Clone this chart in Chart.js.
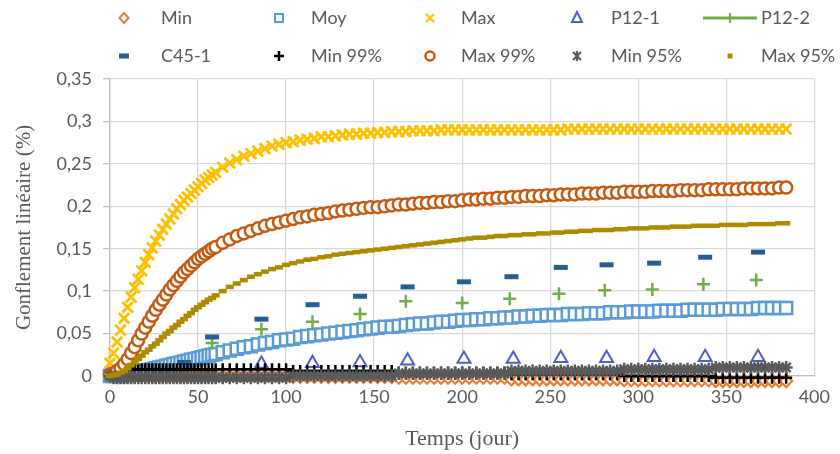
<!DOCTYPE html>
<html><head><meta charset="utf-8">
<script src="https://cdn.jsdelivr.net/npm/chart.js@4.4.1/dist/chart.umd.min.js"></script>
<style>html,body{margin:0;padding:0;background:#fff}#wrap{width:840px;height:454px;position:relative}</style>
</head><body><div id="wrap"><canvas id="c" width="840" height="454"></canvas></div>
<script>
// ---------- DATA ----------
const seriesNames = ['Min','Moy','Max','P12-1','P12-2','C45-1','Min 99%','Max 99%','Min 95%','Max 95%'];
const xTicks = [0,50,100,150,200,250,300,350,400];
const yTicks = [0,0.05,0.1,0.15,0.2,0.25,0.3,0.35];

const days = [
0,2,4,6,8,10,12,14,16,18,
20,22,24,26,28,30,32,34,36,38,
40,42,44,46,48,50,52,54,56,58,
60,
64,68,72,76,
80,84,88,92,96,100,104,108,112,116,
120,124,128,132,136,140,144,148,152,156,
160,164,168,172,176,180,184,188,192,196,
200,204,208,212,216,220,224,228,232,236,
240,244,248,252,256,260,264,268,272,276,
280,284,288,292,296,300,304,308,312,316,
320,324,328,332,336,340,344,348,352,356,
360,364,368,372,376,380,384];

const minVals = [
0,0,0,0,0,0,0,0,0,0,
0,0,0,0,0,0,0,0,0,0,
0,0,0,0,0,0,0,0,0,0,
0,
0,0,0,0,
0,0,0,0,0,0,-0.001,-0.001,-0.001,-0.001,
-0.001,-0.001,-0.001,-0.001,-0.001,-0.001,-0.001,-0.001,-0.001,-0.001,
-0.001,-0.002,-0.002,-0.002,-0.002,-0.002,-0.002,-0.002,-0.002,-0.002,
-0.002,-0.002,-0.002,-0.002,-0.002,-0.002,-0.002,-0.004,-0.004,-0.004,
-0.004,-0.004,-0.004,-0.004,-0.004,-0.004,-0.004,-0.004,-0.004,-0.004,
-0.004,-0.004,-0.004,-0.005,-0.005,-0.005,-0.005,-0.005,-0.005,-0.005,
-0.005,-0.005,-0.005,-0.005,-0.005,-0.005,-0.006,-0.006,-0.006,-0.006,
-0.006,-0.006,-0.006,-0.006,-0.006,-0.006,-0.006];

const moyVals = [
0,0,0,0,0.001,0.001,0.002,0.003,0.004,0.005,
0.006,0.007,0.008,0.009,0.010,0.011,0.012,0.013,0.014,0.015,
0.016,0.017,0.018,0.019,0.020,0.021,0.022,0.023,0.024,0.025,
0.026,
0.028,0.030,0.032,0.034,
0.035,0.037,0.039,0.040,0.042,0.043,0.044,0.046,0.047,0.048,
0.049,0.050,0.051,0.052,0.053,0.054,0.055,0.056,0.057,0.058,
0.058,0.059,0.060,0.061,0.062,0.062,0.063,0.064,0.064,0.065,
0.066,0.066,0.067,0.067,0.068,0.068,0.069,0.069,0.070,0.070,
0.071,0.071,0.072,0.072,0.072,0.073,0.073,0.073,0.074,0.074,
0.074,0.075,0.075,0.075,0.076,0.076,0.076,0.076,0.077,0.077,
0.077,0.077,0.078,0.078,0.078,0.078,0.078,0.079,0.079,0.079,
0.079,0.079,0.080,0.080,0.080,0.080,0.080];

const maxVals = [
0.015,0.027,0.040,0.054,0.068,0.081,0.093,0.104,0.114,0.124,
0.134,0.143,0.151,0.159,0.166,0.173,0.179,0.185,0.191,0.197,
0.202,0.207,0.211,0.215,0.219,0.223,0.227,0.231,0.234,0.237,
0.240,
0.246,0.251,0.255,0.259,
0.262,0.265,0.268,0.271,0.273,0.275,0.276,0.278,0.279,0.280,
0.282,0.282,0.283,0.284,0.285,0.285,0.286,0.286,0.287,0.287,
0.288,0.288,0.288,0.289,0.289,0.289,0.289,0.290,0.290,0.290,
0.290,0.290,0.290,0.290,0.290,0.290,0.290,0.290,0.290,0.290,
0.290,0.290,0.290,0.290,0.290,0.291,0.291,0.291,0.291,0.291,
0.291,0.291,0.291,0.291,0.291,0.291,0.291,0.291,0.291,0.291,
0.291,0.291,0.291,0.291,0.291,0.291,0.291,0.291,0.291,0.291,
0.291,0.291,0.291,0.291,0.291,0.291,0.291];

const p121Days = [86,115,142,169,201,229,256,282,309,338,368];
const p121Vals = [0.014,0.015,0.016,0.018,0.020,0.020,0.021,0.021,0.022,0.022,0.022];

const p122Days = [58,86,115,142,168,200,227,255,281,308,337,367];
const p122Vals = [0.039,0.055,0.064,0.073,0.088,0.086,0.091,0.097,0.101,0.102,0.108,0.113];

const c451Days = [42,58,86,115,142,169,201,228,256,282,309,338,368];
const c451Vals = [0.016,0.046,0.067,0.084,0.094,0.105,0.111,0.117,0.128,0.131,0.133,0.140,0.146];

const min99Vals = [
0,0.003,0.005,0.007,0.008,0.008,0.008,0.008,0.008,0.008,
0.008,0.008,0.008,0.008,0.008,0.008,0.008,0.008,0.008,0.008,
0.008,0.008,0.008,0.008,0.008,0.008,0.008,0.008,0.008,0.008,
0.008,
0.008,0.008,0.008,0.008,
0.008,0.008,0.008,0.008,0.008,0.008,0.006,0.006,0.006,0.006,
0.006,0.006,0.006,0.006,0.006,0.006,0.006,0.006,0.006,0.006,
0.006,0.004,0.004,0.004,0.004,0.004,0.004,0.004,0.004,0.004,
0.004,0.004,0.004,0.004,0.004,0.004,0.004,0.002,0.002,0.002,
0.002,0.002,0.002,0.002,0.002,0.002,0.002,0.002,0.002,0.002,
0.002,0.002,0.002,0,0,0,0,0,0,0,
0,0,0,0,0,0,-0.002,-0.002,-0.002,-0.002,
-0.002,-0.002,-0.002,-0.002,-0.002,-0.002,-0.002];

const max99Vals = [
0.002,0.003,0.006,0.009,0.014,0.020,0.027,0.034,0.042,0.050,
0.057,0.064,0.071,0.078,0.084,0.090,0.096,0.102,0.107,0.112,
0.117,0.122,0.126,0.130,0.134,0.138,0.141,0.144,0.147,0.150,
0.152,
0.157,0.161,0.165,0.168,
0.171,0.174,0.177,0.179,0.181,0.183,0.185,0.187,0.188,0.190,
0.191,0.192,0.194,0.195,0.196,0.197,0.198,0.199,0.199,0.200,
0.201,0.202,0.202,0.203,0.204,0.204,0.205,0.205,0.206,0.206,
0.207,0.208,0.208,0.209,0.209,0.210,0.210,0.211,0.211,0.212,
0.212,0.212,0.213,0.213,0.214,0.214,0.214,0.215,0.215,0.215,
0.216,0.216,0.216,0.217,0.217,0.217,0.217,0.218,0.218,0.218,
0.218,0.219,0.219,0.219,0.219,0.220,0.220,0.220,0.220,0.220,
0.221,0.221,0.221,0.221,0.221,0.222,0.222];

const min95Vals = [
0,-0.002,-0.002,-0.002,-0.002,-0.002,-0.002,-0.002,-0.002,-0.002,
-0.002,-0.002,-0.002,-0.002,-0.002,-0.002,-0.002,-0.002,-0.002,-0.002,
-0.002,-0.002,-0.002,-0.002,-0.002,-0.002,-0.002,-0.002,-0.002,-0.002,
-0.002,
-0.002,-0.002,-0.002,-0.002,
-0.002,-0.002,-0.002,-0.002,-0.002,-0.002,0,0,0,0,
0,0,0,0,0,0,0,0,0,0,
0,0.003,0.003,0.003,0.003,0.003,0.003,0.003,0.003,0.003,
0.003,0.003,0.003,0.003,0.003,0.003,0.003,0.006,0.006,0.006,
0.006,0.006,0.006,0.006,0.006,0.006,0.006,0.006,0.006,0.006,
0.006,0.006,0.006,0.008,0.008,0.008,0.008,0.008,0.008,0.008,
0.008,0.008,0.008,0.008,0.008,0.008,0.010,0.010,0.010,0.010,
0.010,0.010,0.010,0.010,0.010,0.010,0.010];

const max95Vals = [
0.000,0.001,0.002,0.004,0.006,0.009,0.013,0.016,0.020,0.024,
0.028,0.031,0.035,0.038,0.042,0.046,0.050,0.053,0.057,0.060,
0.064,0.067,0.071,0.074,0.078,0.081,0.084,0.087,0.090,0.092,
0.095,
0.100,0.105,0.109,0.113,
0.117,0.120,0.123,0.126,0.128,0.131,0.133,0.135,0.137,0.138,
0.140,0.141,0.143,0.144,0.145,0.146,0.147,0.148,0.149,0.150,
0.151,0.152,0.153,0.154,0.155,0.156,0.157,0.158,0.159,0.160,
0.161,0.162,0.163,0.163,0.164,0.165,0.165,0.166,0.166,0.167,
0.167,0.168,0.168,0.169,0.169,0.170,0.170,0.171,0.171,0.172,
0.172,0.172,0.173,0.173,0.174,0.174,0.174,0.175,0.175,0.175,
0.176,0.176,0.176,0.177,0.177,0.177,0.177,0.178,0.178,0.178,
0.178,0.179,0.179,0.179,0.179,0.180,0.180];

// ---------- CHART ----------
const pts = (xs, ys) => xs.map((x, i) => ({x: x, y: ys[i]}));
const TEXT = '#595959';

function ds(i, xs, ys, color, style, radius, bw, legendKind) {
  return {
    label: seriesNames[i], data: pts(xs, ys), showLine: false,
    pointStyle: style, pointRadius: radius, pointHoverRadius: radius,
    pointBorderWidth: bw, borderColor: color, pointBorderColor: color,
    backgroundColor: (style === 'line' ? color : '#ffffff'),
    pointBackgroundColor: (style === 'line' ? color : '#ffffff'),
    clip: false, order: 20 - i, legendKind: legendKind
  };
}

const datasets = [
  ds(0, days, minVals, '#ED7D31', 'rectRot', 6, 2.2, 'diamond'),
  ds(1, days, moyVals, '#5B9BD5', 'rect', 8.5, 2.5, 'square'),
  ds(2, days, maxVals, '#FFC000', 'crossRot', 7.5, 2.8, 'x'),
  ds(3, p121Days, p121Vals, '#4A62C8', 'triangle', 7.5, 2, 'triangle'),
  ds(4, p122Days, p122Vals, '#70AD47', 'cross', 6.5, 2.5, 'linecross'),
  ds(5, c451Days, c451Vals, '#255E91', 'line', 7, 5, 'dash'),
  ds(6, days, min99Vals, '#000000', 'cross', 6, 2.5, 'plus'),
  ds(7, days, max99Vals, '#C55A11', 'circle', 6, 2.5, 'circle'),
  ds(8, days, min95Vals, '#595959', 'star', 6.5, 2.5, 'star'),
  ds(9, days, max95Vals, '#AC8B00', 'line', 4, 4.5, 'dot')
];

const legendMarkX = [124, 279, 430, 577, 730];
const legendTextX = [161, 311, 461, 611, 761];
const legendRowY = [18, 56];

function drawMark(ctx, kind, x, y, color) {
  ctx.save();
  ctx.strokeStyle = color; ctx.fillStyle = color; ctx.lineWidth = 2;
  ctx.beginPath();
  switch (kind) {
    case 'diamond':
      ctx.moveTo(x, y - 5); ctx.lineTo(x + 4.5, y); ctx.lineTo(x, y + 5); ctx.lineTo(x - 4.5, y); ctx.closePath(); ctx.stroke(); break;
    case 'square':
      ctx.strokeRect(x - 4, y - 4, 8, 8); break;
    case 'x':
      ctx.lineWidth = 2.2;
      ctx.moveTo(x - 4, y - 4); ctx.lineTo(x + 4, y + 4); ctx.moveTo(x + 4, y - 4); ctx.lineTo(x - 4, y + 4); ctx.stroke(); break;
    case 'triangle':
      ctx.moveTo(x, y - 6); ctx.lineTo(x + 5, y + 4); ctx.lineTo(x - 5, y + 4); ctx.closePath(); ctx.stroke(); break;
    case 'linecross':
      ctx.lineWidth = 3; ctx.moveTo(x - 27, y); ctx.lineTo(x + 27, y); ctx.stroke();
      ctx.beginPath(); ctx.lineWidth = 2; ctx.moveTo(x, y - 5); ctx.lineTo(x, y + 5); ctx.stroke(); break;
    case 'dash':
      ctx.fillRect(x - 5, y - 2.5, 10, 5); break;
    case 'plus':
      ctx.lineWidth = 2.5; ctx.moveTo(x - 5, y); ctx.lineTo(x + 5, y); ctx.moveTo(x, y - 5); ctx.lineTo(x, y + 5); ctx.stroke(); break;
    case 'circle':
      ctx.lineWidth = 2.5; ctx.arc(x, y, 4.5, 0, Math.PI * 2); ctx.stroke(); break;
    case 'star':
      ctx.lineWidth = 2.2;
      ctx.moveTo(x - 4, y - 4); ctx.lineTo(x + 4, y + 4); ctx.moveTo(x + 4, y - 4); ctx.lineTo(x - 4, y + 4);
      ctx.moveTo(x, y - 5); ctx.lineTo(x, y + 5); ctx.stroke(); break;
    case 'dot':
      ctx.fillRect(x - 2.5, y - 2.5, 5, 5); break;
  }
  ctx.restore();
}

const gridLegend = {
  id: 'gridLegend',
  afterDraw(chart) {
    const ctx = chart.ctx;
    chart.data.datasets.forEach((d, i) => {
      const col = i % 5, row = Math.floor(i / 5);
      const y = legendRowY[row];
      drawMark(ctx, d.legendKind, legendMarkX[col], y, d.borderColor);
      ctx.save();
      ctx.font = '18px Lato';
      ctx.fillStyle = TEXT;
      ctx.textBaseline = 'middle';
      ctx.textAlign = 'left';
      ctx.fillText(d.label, legendTextX[col], y);
      ctx.restore();
    });
  }
};

const fmt = v => Number(v.toFixed(2)).toString().replace('.', ',');

new Chart(document.getElementById('c'), {
  type: 'scatter',
  data: { datasets: datasets },
  plugins: [gridLegend],
  options: {
    responsive: false, animation: false, devicePixelRatio: 1,
    layout: { padding: { top: 79, right: 22, left: 0, bottom: 0 } },
    plugins: { legend: { display: false }, tooltip: { enabled: false } },
    scales: {
      x: {
        type: 'linear', min: 0, max: 400,
        afterBuildTicks: s => { s.ticks = xTicks.map(v => ({value: v})); },
        afterFit: s => { s.height = 78; },
        grid: { color: '#D9D9D9', lineWidth: 1.3, drawTicks: false },
        border: { color: '#BFBFBF', width: 1.3 },
        ticks: { color: TEXT, font: { family: 'Lato', size: 18 }, padding: 10, maxRotation: 0 },
        title: { display: true, text: 'Temps (jour)', color: TEXT,
                 font: { family: 'Liberation Serif', size: 22 }, padding: { top: 2, bottom: 2 } }
      },
      y: {
        type: 'linear', min: 0, max: 0.35,
        afterBuildTicks: s => { s.ticks = yTicks.map(v => ({value: v})); },
        afterFit: s => { s.width = 110; },
        grid: { color: '#D9D9D9', lineWidth: 1.3, tickLength: 7, tickColor: '#BFBFBF' },
        border: { color: '#BFBFBF', width: 1.3 },
        ticks: { color: TEXT, font: { family: 'Lato', size: 18 }, padding: 11, callback: v => fmt(v) },
        title: { display: true, text: 'Gonflement linéaire (%)', color: TEXT,
                 font: { family: 'Liberation Serif', size: 21 }, padding: { top: 12, bottom: 2 } }
      }
    }
  }
});
</script>
</body></html>
